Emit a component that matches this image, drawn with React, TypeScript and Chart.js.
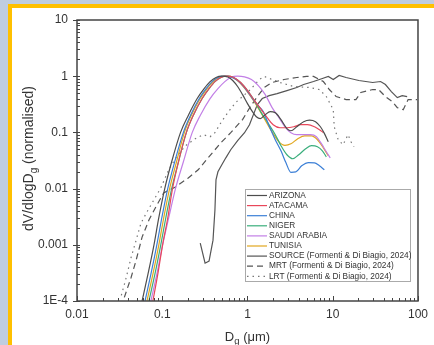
import React, { useEffect, useRef } from 'react';
import { Chart, registerables } from 'chart.js';
Chart.register(...registerables);

const xMajor = [0.01, 0.1, 1, 10, 100];
const xTickLabels = ['0.01', '0.1', '1', '10', '100'];
const yMajor = [1e-4, 1e-3, 1e-2, 0.1, 1, 10];
const yTickLabels = ['1E-4', '0.001', '0.01', '0.1', '1', '10'];

const seriesLabels = [
  'ARIZONA', 'ATACAMA', 'CHINA', 'NIGER', 'SAUDI ARABIA', 'TUNISIA',
  'SOURCE (Formenti & Di Biagio, 2024)', 'MRT (Formenti & Di Biagio, 2024)', 'LRT (Formenti & Di Biagio, 2024)',
];

const arizonaX = [0.058, 0.068, 0.080, 0.091, 0.107, 0.129, 0.164, 0.202, 0.257, 0.310, 0.364, 0.427, 0.50, 0.587, 0.671, 0.766, 0.875, 1.0, 1.143, 1.27, 1.413, 1.615, 1.845, 2.11, 2.47, 2.90, 3.23, 3.785, 4.56, 5.35, 6.28, 7.17, 7.97, 8.87];
const arizonaY = [1e-4, 3e-4, 0.001, 0.003, 0.01, 0.03, 0.1, 0.2, 0.4, 0.6, 0.8, 0.95, 1.0, 0.97, 0.84, 0.655, 0.47, 0.325, 0.234, 0.19, 0.176, 0.207, 0.234, 0.225, 0.169, 0.117, 0.107, 0.126, 0.155, 0.165, 0.155, 0.126, 0.096, 0.068];

const atacamaX = [0.0777, 0.0887, 0.101, 0.116, 0.132, 0.155, 0.192, 0.231, 0.294, 0.354, 0.415, 0.488, 0.572, 0.689, 0.83, 1.0, 1.205, 1.45, 1.703, 2.0, 2.41, 2.90, 3.49, 4.21, 5.07, 6.11, 6.98, 7.76];
const atacamaY = [1e-4, 3e-4, 0.001, 0.003, 0.01, 0.03, 0.1, 0.2, 0.4, 0.6, 0.8, 0.95, 1.0, 0.948, 0.772, 0.555, 0.37, 0.254, 0.183, 0.137, 0.121, 0.121, 0.126, 0.137, 0.137, 0.126, 0.112, 0.0988];

const chinaX = [0.0628, 0.0736, 0.0864, 0.0987, 0.116, 0.140, 0.177, 0.214, 0.272, 0.327, 0.384, 0.45, 0.542, 0.636, 0.766, 0.923, 1.083, 1.27, 1.53, 1.796, 2.11, 2.47, 2.82, 3.23, 3.69, 4.32, 5.21, 6.11, 6.98, 7.97];
const chinaY = [1e-4, 3e-4, 0.001, 0.003, 0.01, 0.03, 0.1, 0.2, 0.4, 0.6, 0.8, 0.95, 1.0, 0.97, 0.838, 0.629, 0.45, 0.325, 0.234, 0.13, 0.075, 0.047, 0.029, 0.0195, 0.0198, 0.0254, 0.029, 0.0288, 0.0254, 0.0216];

const nigerX = [0.0698, 0.082, 0.0961, 0.110, 0.129, 0.155, 0.192, 0.231, 0.294, 0.354, 0.415, 0.488, 0.572, 0.689, 0.83, 1.0, 1.205, 1.45, 1.75, 2.11, 2.47, 2.90, 3.40, 3.99, 4.81, 5.64, 6.62, 7.56, 8.41];
const nigerY = [1e-4, 3e-4, 0.001, 0.003, 0.01, 0.03, 0.1, 0.2, 0.4, 0.6, 0.8, 0.95, 1.0, 0.948, 0.772, 0.555, 0.37, 0.225, 0.145, 0.092, 0.058, 0.040, 0.034, 0.040, 0.051, 0.058, 0.0556, 0.047, 0.0368];

const saudiX = [0.0736, 0.0864, 0.101, 0.119, 0.143, 0.177, 0.225, 0.279, 0.364, 0.45, 0.542, 0.636, 0.766, 0.923, 1.112, 1.34, 1.615, 1.945, 2.34, 2.75, 3.23, 3.785, 4.56, 5.50, 6.44, 7.36, 8.41, 9.35];
const saudiY = [1e-4, 3e-4, 0.001, 0.003, 0.01, 0.03, 0.1, 0.2, 0.4, 0.6, 0.8, 0.95, 1.0, 0.97, 0.873, 0.682, 0.471, 0.276, 0.183, 0.126, 0.0988, 0.091, 0.091, 0.091, 0.0838, 0.063, 0.0452, 0.0353];

const tunisiaX = [0.0662, 0.0777, 0.0912, 0.104, 0.122, 0.147, 0.182, 0.219, 0.279, 0.336, 0.394, 0.462, 0.557, 0.671, 0.809, 0.974, 1.173, 1.413, 1.703, 2.0, 2.34, 2.75, 3.23, 3.89, 4.69, 5.64, 6.62, 7.76, 8.87];
const tunisiaY = [1e-4, 3e-4, 0.001, 0.003, 0.01, 0.03, 0.1, 0.2, 0.4, 0.6, 0.8, 0.95, 1.0, 0.948, 0.772, 0.555, 0.37, 0.234, 0.143, 0.095, 0.068, 0.059, 0.0628, 0.0773, 0.087, 0.087, 0.074, 0.053, 0.0385];

const sourceX = [0.279, 0.318, 0.354, 0.394, 0.415, 0.427, 0.45, 0.5, 0.557, 0.636, 0.766, 0.923, 1.055, 1.173, 1.305, 1.49, 1.796, 2.222, 2.90, 3.785, 4.56, 5.95, 7.56, 8.87, 10.14, 11.89, 14.33, 20.24, 29.4, 36.4, 41.5, 48.7, 57.2, 65.3, 74.6];
const sourceY = [0.00107, 0.000471, 0.000512, 0.00121, 0.00417, 0.0143, 0.0199, 0.0265, 0.0353, 0.0491, 0.0712, 0.0988, 0.137, 0.207, 0.312, 0.40, 0.452, 0.49, 0.555, 0.629, 0.711, 0.804, 0.91, 0.99, 0.873, 1.03, 0.948, 0.838, 0.772, 0.804, 0.711, 0.533, 0.417, 0.452, 0.434];

const mrtX = [0.0359, 0.0432, 0.0494, 0.058, 0.0698, 0.0841, 0.104, 0.143, 0.202, 0.264, 0.345, 0.488, 0.636, 0.875, 1.083, 1.305, 1.573, 1.945, 2.679, 3.785, 4.939, 5.949, 7.762, 9.11, 10.97, 14.33, 18.69, 21.35, 29.4, 34.5, 41.5, 50.0, 57.2, 67.1, 76.6, 97.3];
const mrtY = [0.000116, 0.000265, 0.000533, 0.00137, 0.00276, 0.00471, 0.0084, 0.0107, 0.0155, 0.0216, 0.0353, 0.0655, 0.0988, 0.169, 0.288, 0.434, 0.629, 0.772, 0.873, 0.948, 0.99, 0.99, 0.804, 0.579, 0.434, 0.384, 0.384, 0.512, 0.579, 0.579, 0.434, 0.353, 0.276, 0.254, 0.384, 0.384];

const lrtX = [0.0331, 0.0379, 0.0432, 0.0494, 0.0564, 0.0662, 0.0797, 0.0961, 0.119, 0.147, 0.187, 0.244, 0.302, 0.364, 0.415, 0.488, 0.587, 0.726, 0.875, 1.083, 1.376, 1.573, 1.945, 2.408, 3.493, 5.35, 6.979, 8.41, 10.14, 10.41, 11.58, 13.22, 15.11, 16.37, 17.73];
const lrtY = [0.000126, 0.000265, 0.000603, 0.00121, 0.00244, 0.00384, 0.00628, 0.0103, 0.0216, 0.0368, 0.0579, 0.0772, 0.091, 0.0838, 0.0988, 0.149, 0.225, 0.339, 0.434, 0.579, 0.873, 0.99, 0.873, 0.772, 0.655, 0.629, 0.579, 0.434, 0.254, 0.126, 0.0741, 0.0603, 0.091, 0.0682, 0.0556];

const FONT = "'Liberation Sans', Arial, sans-serif";
const TEXT = '#333333';

function isMajor(v: number) {
  const l = Math.log10(v);
  return Math.abs(l - Math.round(l)) < 1e-6;
}
function logTicks(majors: number[]) {
  const out: { value: number }[] = [];
  for (let i = 0; i < majors.length; i++) {
    out.push({ value: majors[i] });
    if (i < majors.length - 1) for (let k = 2; k <= 9; k++) out.push({ value: majors[i] * k });
  }
  return out;
}
function labelFor(v: number, majors: number[], labels: string[]) {
  const i = majors.findIndex((m) => Math.abs(Math.log10(m) - Math.log10(v)) < 1e-6);
  return i >= 0 ? labels[i] : '';
}

function mk(i: number, xs: number[], ys: number[], color: string, dash: number[], smooth: boolean, width = 1.2) {
  return {
    label: seriesLabels[i],
    data: xs.map((x, k) => ({ x, y: ys[k] })),
    borderColor: color,
    backgroundColor: color,
    borderWidth: width,
    borderDash: dash,
    pointRadius: 0,
    showLine: true,
    fill: false,
    cubicInterpolationMode: smooth ? 'monotone' : 'default',
    tension: 0,
  };
}

const framePlugin = {
  id: 'framePlugin',
  afterDraw(chart: any) {
    const { ctx, chartArea: a, scales } = chart;
    ctx.save();
    // ticks
    ctx.strokeStyle = '#444';
    ctx.lineWidth = 1;
    const xs = scales.x;
    const ys = scales.y;
    xs.ticks.forEach((t: any) => {
      const p = Math.round(xs.getPixelForValue(t.value)) + 0.5;
      const len = isMajor(t.value) ? 5 : 3;
      ctx.beginPath();
      ctx.moveTo(p, a.bottom);
      ctx.lineTo(p, a.bottom - len);
      ctx.stroke();
    });
    ys.ticks.forEach((t: any) => {
      const p = Math.round(ys.getPixelForValue(t.value)) + 0.5;
      const major = isMajor(t.value);
      ctx.beginPath();
      if (major) {
        ctx.moveTo(a.left - 4, p);
        ctx.lineTo(a.left + 3, p);
      } else {
        ctx.moveTo(a.left, p);
        ctx.lineTo(a.left + 3, p);
      }
      ctx.stroke();
    });
    // frame
    ctx.strokeStyle = '#444';
    ctx.lineWidth = 1.5;
    ctx.strokeRect(a.left, a.top, a.right - a.left, a.bottom - a.top);

    // y title
    ctx.fillStyle = TEXT;
    ctx.textBaseline = 'alphabetic';
    ctx.textAlign = 'left';
    ctx.save();
    ctx.translate(33, 158.5);
    ctx.rotate(-Math.PI / 2);
    const big = `14px ${FONT}`;
    const sub = `10px ${FONT}`;
    ctx.font = big;
    const p1 = 'dV/dlogD';
    const p3 = ' (normalised)';
    const w1 = ctx.measureText(p1).width;
    const w3 = ctx.measureText(p3).width;
    ctx.font = sub;
    const w2 = ctx.measureText('g').width;
    let sx = -(w1 + w2 + w3) / 2;
    ctx.font = big;
    ctx.fillText(p1, sx, 0);
    sx += w1;
    ctx.font = sub;
    ctx.fillText('g', sx, 3.5);
    sx += w2;
    ctx.font = big;
    ctx.fillText(p3, sx, 0);
    ctx.restore();

    // x title
    const xb = `13px ${FONT}`;
    const xsub = `9.5px ${FONT}`;
    ctx.font = xb;
    const q1 = 'D';
    const q3 = ' (\u03bcm)';
    const v1 = ctx.measureText(q1).width;
    const v3 = ctx.measureText(q3).width;
    ctx.font = xsub;
    const v2 = ctx.measureText('g').width;
    let tx = (a.left + a.right) / 2 - (v1 + v2 + v3) / 2;
    ctx.font = xb;
    ctx.fillText(q1, tx, 341);
    tx += v1;
    ctx.font = xsub;
    ctx.fillText('g', tx, 344);
    tx += v2;
    ctx.font = xb;
    ctx.fillText(q3, tx, 341);

    // legend
    const bx = 245.5, by = 189.5, bw = 165, bh = 92;
    ctx.fillStyle = '#ffffff';
    ctx.fillRect(bx, by, bw, bh);
    ctx.strokeStyle = '#aaaaaa';
    ctx.lineWidth = 1;
    ctx.strokeRect(bx, by, bw, bh);
    ctx.font = `8.3px ${FONT}`;
    ctx.textBaseline = 'middle';
    chart.data.datasets.forEach((ds: any, i: number) => {
      const y = 195.5 + i * 10.1;
      ctx.strokeStyle = ds.borderColor;
      ctx.lineWidth = ds.borderWidth;
      ctx.setLineDash(ds.borderDash || []);
      ctx.beginPath();
      ctx.moveTo(247, y);
      ctx.lineTo(267, y);
      ctx.stroke();
      ctx.setLineDash([]);
      ctx.fillStyle = TEXT;
      ctx.fillText(ds.label, 269, y);
    });
    ctx.restore();
  },
};

export default function App() {
  const ref = useRef<HTMLCanvasElement>(null);
  useEffect(() => {
    const datasets: any[] = [
      mk(0, arizonaX, arizonaY, '#4d4d4d', [], true),
      mk(1, atacamaX, atacamaY, '#e8475a', [], true),
      mk(2, chinaX, chinaY, '#3b7fd6', [], true),
      mk(3, nigerX, nigerY, '#3aae7c', [], true),
      mk(4, saudiX, saudiY, '#c27fe6', [], true),
      mk(5, tunisiaX, tunisiaY, '#e2a71e', [], true),
      mk(6, sourceX, sourceY, '#555555', [], false),
      mk(7, mrtX, mrtY, '#555555', [6, 4], false),
      mk(8, lrtX, lrtY, '#777777', [1.5, 4], false),
    ];
    const chart = new Chart(ref.current as HTMLCanvasElement, {
      type: 'scatter',
      data: { datasets },
      options: {
        animation: false,
        responsive: false,
        devicePixelRatio: 1,
        layout: { padding: { left: 0, top: 20, right: 11, bottom: 0 } },
        plugins: { legend: { display: false }, tooltip: { enabled: false } },
        scales: {
          x: {
            type: 'logarithmic',
            min: 0.01,
            max: 100,
            grid: { display: false, drawTicks: false },
            border: { display: false },
            afterBuildTicks: (s: any) => { s.ticks = logTicks(xMajor); },
            afterFit: (s: any) => { s.height = 44; },
            ticks: {
              autoSkip: false,
              maxRotation: 0,
              padding: 6,
              color: TEXT,
              font: { family: FONT, size: 12 },
              callback: (v: any) => labelFor(Number(v), xMajor, xTickLabels),
            },
          },
          y: {
            type: 'logarithmic',
            min: 1e-4,
            max: 10,
            grid: { display: false, drawTicks: false },
            border: { display: false },
            afterBuildTicks: (s: any) => { s.ticks = logTicks(yMajor); },
            afterFit: (s: any) => { s.width = 77; },
            ticks: {
              autoSkip: false,
              padding: 9,
              color: TEXT,
              font: { family: FONT, size: 12 },
              callback: (v: any) => labelFor(Number(v), yMajor, yTickLabels),
            },
          },
        },
      } as any,
      plugins: [framePlugin],
    });
    return () => chart.destroy();
  }, []);

  return (
    <div style={{ position: 'fixed', left: 0, top: 0, width: 434, height: 345, background: '#bfcde0', overflow: 'hidden' }}>
      <div style={{ position: 'absolute', left: 8, top: 4, width: 440, height: 360, background: '#ffffff', borderTop: '4px solid #ffc000', borderLeft: '4px solid #ffc000' }} />
      <canvas ref={ref} width={434} height={345} style={{ position: 'absolute', left: 0, top: 0, width: 434, height: 345 }} />
    </div>
  );
}
